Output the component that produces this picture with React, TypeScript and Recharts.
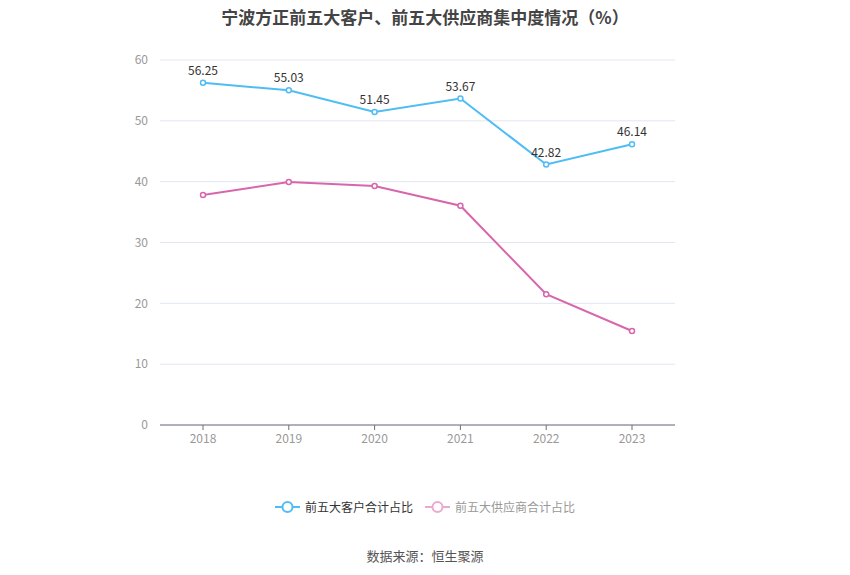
import { LineChart, Line, XAxis, YAxis, CartesianGrid, LabelList } from "recharts";

const years = ["2018", "2019", "2020", "2021", "2022", "2023"];
const customerShare = [56.25, 55.03, 51.45, 53.67, 42.82, 46.14];
const supplierShare = [37.8, 39.95, 39.3, 36.05, 21.5, 15.45];
const yTicks = [0, 10, 20, 30, 40, 50, 60];

const BLUE = "#4fbdf5";
const PINK = "#d866ad";
const FONT = "'Noto Sans CJK SC', 'Noto Sans', sans-serif";

const data = years.map((y, i) => ({
  year: y,
  customer: customerShare[i],
  supplier: supplierShare[i],
}));

const legendItems = [
  { name: "前五大客户合计占比", color: BLUE, text: "#333" },
  { name: "前五大供应商合计占比", color: "#eaa9d2", text: "#999" },
];

function LegendBox() {
  return (
    <div
      style={{
        position: "absolute",
        top: 498,
        left: 0,
        width: 850,
        display: "flex",
        justifyContent: "center",
        gap: 12,
        fontFamily: FONT,
        fontSize: 12,
      }}
    >
      {legendItems.map((it) => (
        <div key={it.name} style={{ display: "flex", alignItems: "center", gap: 5 }}>
          <svg width={25} height={14}>
            <line x1={0} y1={7} x2={25} y2={7} stroke={it.color} strokeWidth={2} />
            <circle cx={12.5} cy={7} r={5} fill="#fff" stroke={it.color} strokeWidth={2} />
          </svg>
          <span style={{ color: it.text }}>{it.name}</span>
        </div>
      ))}
    </div>
  );
}

export default function App() {
  return (
    <div style={{ position: "absolute", left: 0, top: 0, width: 850, height: 575, background: "#fff", fontFamily: FONT }}>
      <div
        style={{
          position: "absolute",
          top: 4,
          width: 850,
          textAlign: "center",
          fontSize: 17,
          fontWeight: "bold",
          color: "#444",
        }}
      >
        宁波方正前五大客户、前五大供应商集中度情况（%）
      </div>
      <LineChart width={850} height={575} data={data} margin={{ top: 60, right: 175, bottom: 120, left: 120 }}>
        <CartesianGrid vertical={false} stroke="#e0e6f1" />
        <XAxis
          dataKey="year"
          height={30}
          padding={{ left: 43, right: 43 }}
          stroke="#6e7079"
          tickLine={{ stroke: "#6e7079" }}
          tickSize={5}
          tick={{ fill: "#999", fontSize: 12, fontFamily: FONT }}
          tickMargin={4}
        />
        <YAxis
          width={40}
          domain={[0, 60]}
          ticks={yTicks}
          axisLine={false}
          tickLine={false}
          tick={{ fill: "#999", fontSize: 12, fontFamily: FONT }}
          tickMargin={6}
        />
        <Line
          dataKey="customer"
          stroke={BLUE}
          strokeWidth={2}
          dot={{ r: 2.5, fill: "#fff", stroke: BLUE, strokeWidth: 1.5 }}
          isAnimationActive={false}
        >
          <LabelList dataKey="customer" position="top" offset={8} fill="#333" fontSize={12} fontFamily={FONT} />
        </Line>
        <Line
          dataKey="supplier"
          stroke={PINK}
          strokeWidth={2}
          dot={{ r: 2.5, fill: "#fff", stroke: PINK, strokeWidth: 1.5 }}
          isAnimationActive={false}
        />
      </LineChart>
      <LegendBox />
      <div
        style={{
          position: "absolute",
          top: 546,
          width: 850,
          textAlign: "center",
          fontSize: 13,
          color: "#555",
        }}
      >
        数据来源：恒生聚源
      </div>
    </div>
  );
}
